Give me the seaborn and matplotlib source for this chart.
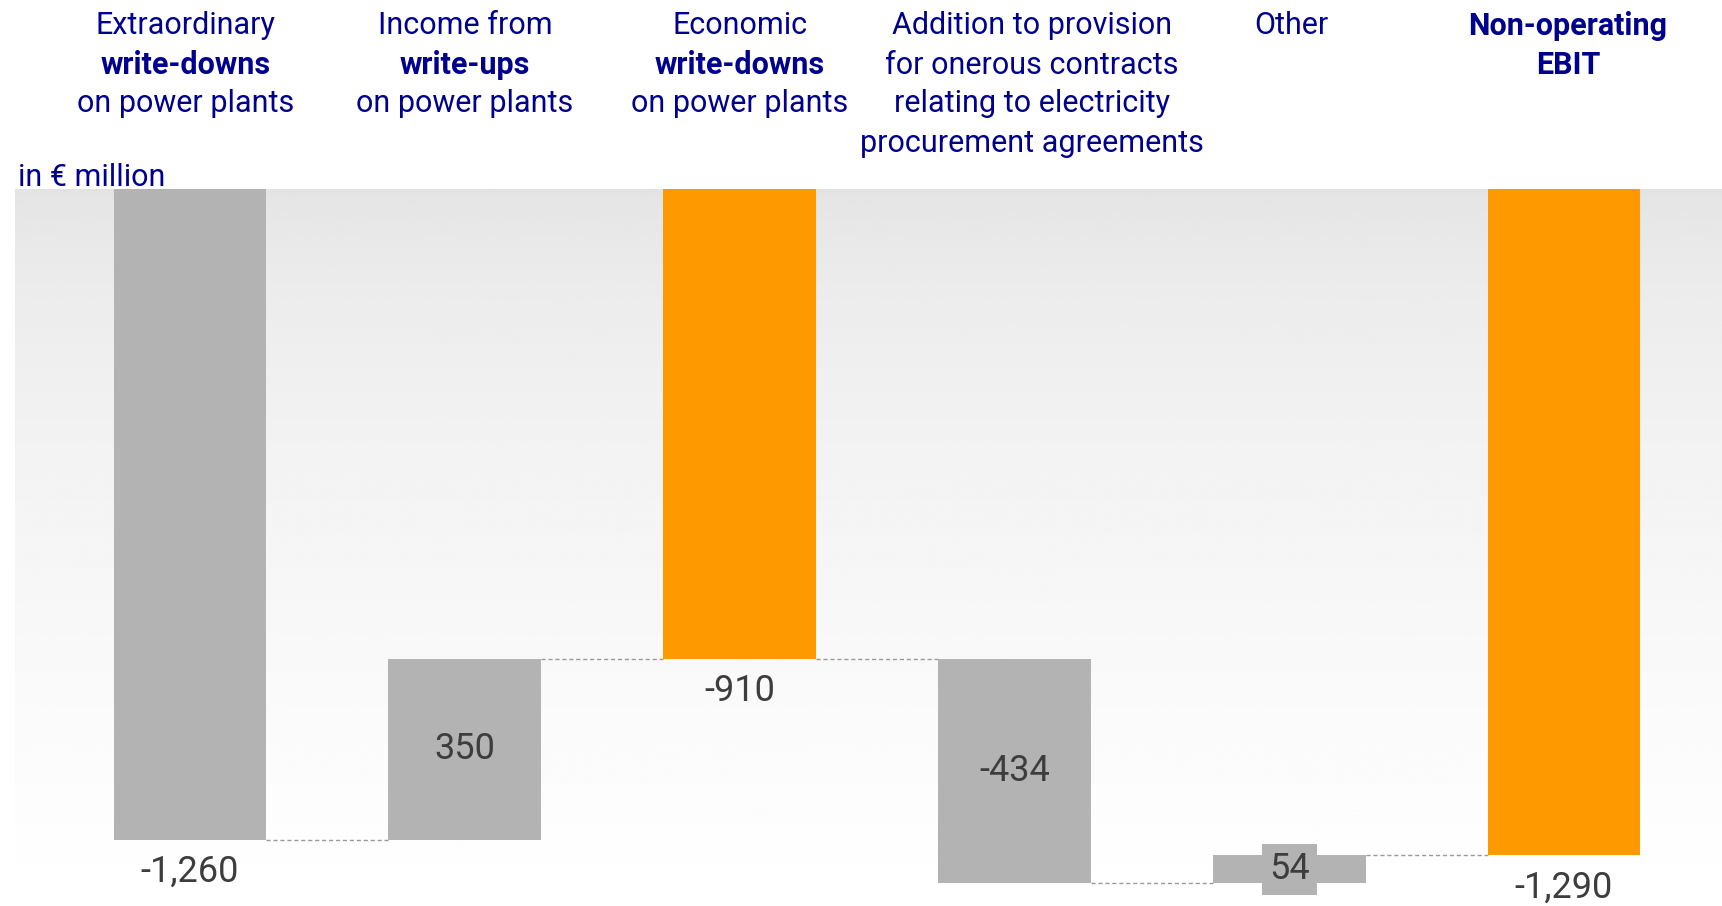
import matplotlib
matplotlib.use("Agg")
import matplotlib.pyplot as plt
import matplotlib.transforms as mtransforms
import numpy as np
import pandas as pd
import seaborn as sns

# data (in EUR million)
categories = ["Extraordinary write-downs", "Income from write-ups", "Economic write-downs",
              "Onerous contracts", "Other", "Non-operating EBIT"]
values = [-1260, 350, -910, -434, 54, -1290]
is_total = [False, False, True, False, False, True]
value_labels = ["-1,260", "350", "-910", "-434", "54", "-1,290"]
label_pos = ["below", "inside", "below", "inside", "box", "below"]

# header lines: (text, bold)
headers = [
    [("Extraordinary", False), ("write-downs", True), ("on power plants", False)],
    [("Income from", False), ("write-ups", True), ("on power plants", False)],
    [("Economic", False), ("write-downs", True), ("on power plants", False)],
    [("Addition to provision", False), ("for onerous contracts", False),
     ("relating to electricity", False), ("procurement agreements", False)],
    [("Other", False)],
    [("Non-operating", True), ("EBIT", True)],
]
header_dx = [-0.015, 0, 0, 0.063, 0.008, 0.014]

# waterfall start / end
starts, ends = [], []
running = 0
for v, tot in zip(values, is_total):
    if tot:
        s, e = 0, v
    else:
        s, e = running, running + v
    starts.append(s)
    ends.append(e)
    running = e

df = pd.DataFrame({"cat": categories, "start": starts, "end": ends})
df["height"] = df["end"] - df["start"]

GRAY = "#b3b3b3"
ORANGE = "#fe9a00"
NAVY = "#00008f"
VALC = "#3d3d3d"

sns.set_style("white")
plt.rcParams["font.family"] = ["Roboto", "DejaVu Sans"]

fig = plt.figure(figsize=(17.22, 9.06), dpi=100)
ax = fig.add_axes([15 / 1722, 0, 1 - 15 / 1722, 1 - 189 / 906])

xlo, xhi = -0.637, 5.575
ylo, yhi = -1388, 0

# background gradient
t = np.linspace(0, 1, 256)[:, None]
grad = 0.89 + 0.11 * t ** 0.6
ax.imshow(np.repeat(grad, 2, axis=1), cmap="gray", vmin=0, vmax=1,
          extent=[xlo, xhi, ylo, yhi], aspect="auto", zorder=0, origin="upper")

width = 0.556
sns.barplot(data=df, x="cat", y="height", bottom=df["start"].values, order=categories,
            color=GRAY, width=width, errorbar=None, saturation=1, ax=ax, zorder=2)
for p, tot in zip(ax.patches, is_total):
    p.set_facecolor(ORANGE if tot else GRAY)
    p.set_edgecolor("none")

# dashed connectors
for i in range(len(values) - 1):
    ax.hlines(ends[i], i + width / 2, i + 1 - width / 2, colors="#9a9a9a",
              linestyles=(0, (3, 2)), linewidth=1, zorder=1)

# value labels
for i, (lab, pos) in enumerate(zip(value_labels, label_pos)):
    if pos == "below":
        ax.annotate(lab, (i, min(starts[i], ends[i])), xytext=(0, -23),
                    textcoords="offset points", ha="center", va="center",
                    fontsize=26, color=VALC, zorder=3)
    else:
        mid = (starts[i] + ends[i]) / 2
        kw = {}
        if pos == "box":
            kw["bbox"] = dict(boxstyle="square,pad=0.2", facecolor=GRAY, edgecolor="none")
        ax.text(i, mid, lab, ha="center", va="center", fontsize=26,
                color=VALC, zorder=3, **kw)

ax.set_xlim(xlo, xhi)
ax.set_ylim(ylo, yhi)
ax.set_axis_off()

# headers above the plot
trans = mtransforms.blended_transform_factory(ax.transData, fig.transFigure)
line_y = [26, 65, 104, 143]
for i, lines in enumerate(headers):
    for j, (txt, bold) in enumerate(lines):
        ax.text(i + header_dx[i], 1 - line_y[j] / 906, txt, transform=trans,
                ha="center", va="center", fontsize=22, color=NAVY,
                fontweight="bold" if bold else "normal", clip_on=False)

fig.text(18 / 1722, 1 - 177 / 906, "in € million", ha="left", va="center",
         fontsize=22, color=NAVY)

fig.savefig("out.png", dpi=100)
